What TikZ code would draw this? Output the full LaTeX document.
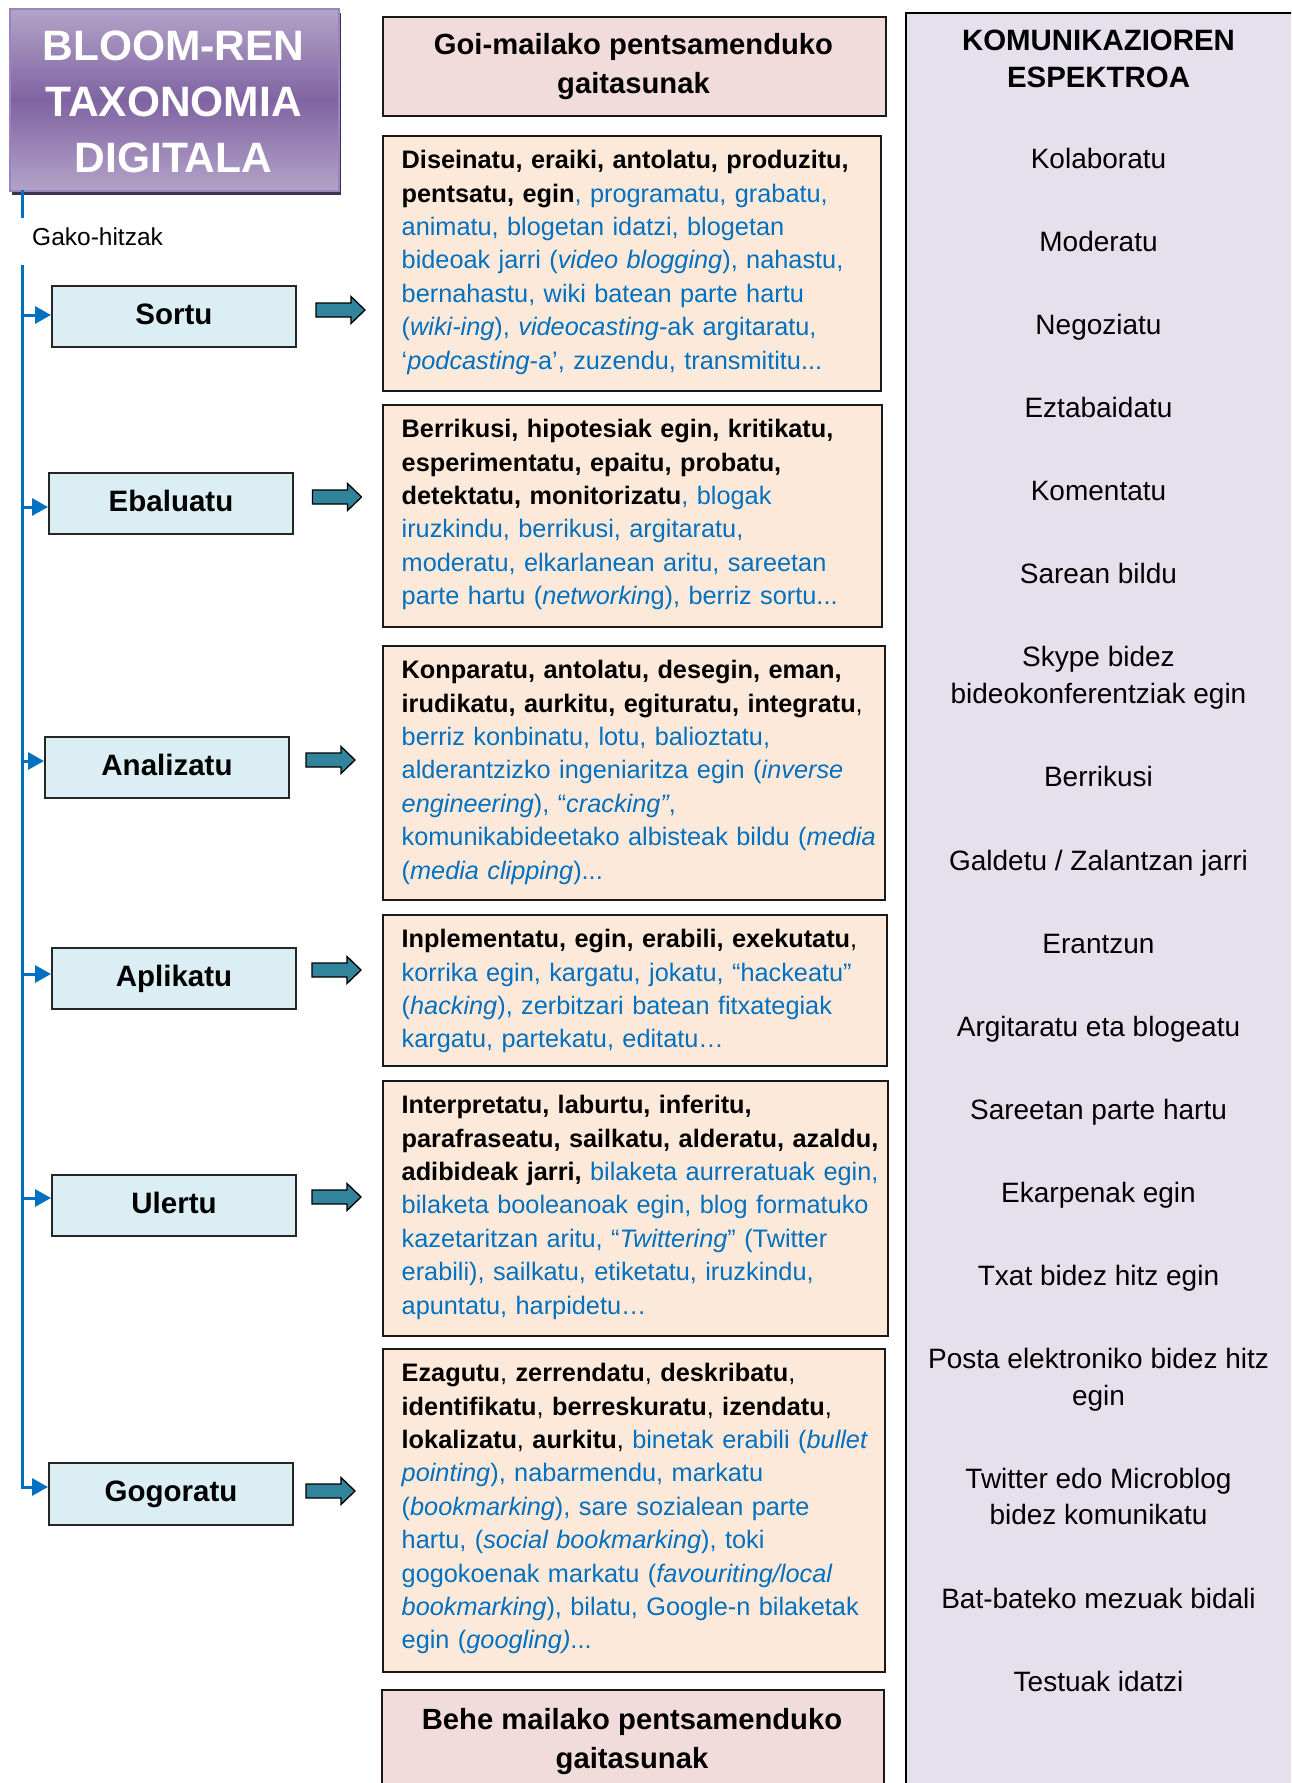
\documentclass[tikz,border=0pt]{standalone}
\usepackage{fontspec}
\setmainfont{Liberation Sans}
\usetikzlibrary{arrows.meta,calc}
\definecolor{bluetxt}{HTML}{0070C0}
\definecolor{bluel}{HTML}{0070C0}
\definecolor{lboxfill}{HTML}{DAEEF3}
\definecolor{tboxfill}{HTML}{FDE9D9}
\definecolor{headfill}{HTML}{F2DCDB}
\definecolor{rcolfill}{HTML}{E5E0EC}
\definecolor{teal}{HTML}{31849B}
\definecolor{titlel}{HTML}{B3A3C8}
\definecolor{titled}{HTML}{8064A2}
\definecolor{titleb}{HTML}{9A86BE}
\definecolor{shadowc}{HTML}{3F3151}
\newcommand{\bk}[1]{\textcolor{black}{\textbf{#1}}}
\newcommand{\kc}[1]{\textcolor{black}{#1}}
\newcommand{\tealarrow}[3]{%
  \coordinate (#1) at (#2,#3);
  \draw[tarrowp, shift={(#1)}] (-24.5,7) -- (10.5,7) -- (10.5,13.5) -- (24.5,0) -- (10.5,-13.5) -- (10.5,-7) -- (-24.5,-7) -- cycle;}
\begin{document}
\begin{tikzpicture}[x=1pt,y=1pt,
  lbox/.style={draw=black!85, fill=lboxfill, line width=2pt, minimum width=244pt, minimum height=61pt, inner sep=0pt, anchor=north west, font=\bfseries\fontsize{29.5}{35}\selectfont, text height=22pt, text depth=6.8pt},
  tbox/.style={draw=black!90, fill=tboxfill, line width=2pt, inner sep=0pt, anchor=north west},
  hbox/.style={draw=black!90, fill=headfill, line width=2pt, inner sep=0pt, anchor=north west},
  txt/.style={anchor=north west, inner sep=0pt, text width=480pt, align=left, text=bluetxt, font=\fontsize{25.3}{33.4}\selectfont},
  htxt/.style={anchor=north, inner sep=0pt, align=center, font=\bfseries\fontsize{29.2}{39}\selectfont},
  rc/.style={anchor=north, inner sep=0pt, align=center, font=\fontsize{28}{37.5}\selectfont},
  tarrowp/.style={draw=black, line width=1.3pt, fill=teal, line join=miter},
  bline/.style={draw=bluel, line width=3pt},
  barrow/.style={draw=bluel, line width=3pt, -{Triangle[length=16pt,width=17pt]}}
]
\clip (0,0) rectangle (1291,-1783);
\fill[white] (0,0) rectangle (1291,-1783);

% right column
\node[draw=black, fill=rcolfill, line width=2pt, anchor=north west, minimum width=420pt, minimum height=1800pt, inner sep=0pt] (rcol) at (905,-12) {};
\node[rc, font=\bfseries\fontsize{29.4}{37.5}\selectfont] (rch) at (1098.5,-24) {\strut KOMUNIKAZIOREN\\ESPEKTROA};
\node[rc] (r1) at (1098.5,-141.9) {\strut Kolaboratu};
\node[rc] (r2) at (1098.5,-224.9) {\strut Moderatu};
\node[rc] (r3) at (1098.5,-308) {\strut Negoziatu};
\node[rc] (r4) at (1098.5,-391) {\strut Eztabaidatu};
\node[rc] (r5) at (1098.5,-474) {\strut Komentatu};
\node[rc] (r6) at (1098.5,-557) {\strut Sarean bildu};
\node[rc] (r7) at (1098.5,-640) {\strut Skype bidez\\bideokonferentziak egin};
\node[rc] (r8) at (1098.5,-760.5) {\strut Berrikusi};
\node[rc] (r9) at (1098.5,-843.6) {\strut Galdetu / Zalantzan jarri};
\node[rc] (r10) at (1098.5,-926.6) {\strut Erantzun};
\node[rc] (r11) at (1098.5,-1009.6) {\strut Argitaratu eta blogeatu};
\node[rc] (r12) at (1098.5,-1092.7) {\strut Sareetan parte hartu};
\node[rc] (r13) at (1098.5,-1175.7) {\strut Ekarpenak egin};
\node[rc] (r14) at (1098.5,-1258.7) {\strut Txat bidez hitz egin};
\node[rc] (r15) at (1098.5,-1341.7) {\strut Posta elektroniko bidez hitz\\egin};
\node[rc, font=\fontsize{28}{36.5}\selectfont] (r16) at (1098.5,-1462.3) {\strut Twitter edo Microblog\\bidez komunikatu};
\node[rc] (r17) at (1098.5,-1581.7) {\strut Bat-bateko mezuak bidali};
\node[rc] (r18) at (1098.5,-1664.7) {\strut Testuak idatzi};

% title
\fill[shadowc] (12,-13) rectangle (341,-195);
\node[draw=titleb, line width=2pt, top color=titlel, bottom color=titlel, middle color=titled, anchor=north west, minimum width=329pt, minimum height=182pt, inner sep=0pt] (title) at (9,-8) {};
\node[anchor=north, inner sep=0pt, align=center, text=white, font=\bfseries\fontsize{42.5}{56}\selectfont] (titletext) at (173.5,-20.8) {\strut BLOOM-REN\\TAXONOMIA\\DIGITALA};

% Gako-hitzak
\node[anchor=base west, inner sep=0pt, font=\fontsize{24.5}{29}\selectfont] (gako) at (32,-245.5) {Gako-hitzak};

% header boxes
\node[hbox, minimum width=503pt, minimum height=99pt] (goi) at (382,-16) {};
\node[htxt] (goitxt) at (633.5,-27.2) {\strut Goi-mailako pentsamenduko\\gaitasunak};
\node[hbox, minimum width=502pt, minimum height=200pt] (behe) at (381,-1689) {};
\node[htxt] (behetxt) at (632,-1702.2) {\strut Behe mailako pentsamenduko\\gaitasunak};

% left boxes
\node[lbox] (s1) at (51,-285) {Sortu};
\node[lbox] (s2) at (48,-472) {Ebaluatu};
\node[lbox] (s3) at (44,-736) {Analizatu};
\node[lbox] (s4) at (51,-947) {Aplikatu};
\node[lbox] (s5) at (51,-1174) {Ulertu};
\node[lbox, minimum height=62pt] (s6) at (48,-1462) {Gogoratu};

% text boxes
\node[tbox, minimum width=498pt, minimum height=255pt] (t1) at (382,-135) {};
\node[tbox, minimum width=499pt, minimum height=222pt] (t2) at (382,-404) {};
\node[tbox, minimum width=502pt, minimum height=254pt] (t3) at (382,-645) {};
\node[tbox, minimum width=504pt, minimum height=151pt] (t4) at (382,-914) {};
\node[tbox, minimum width=505pt, minimum height=255pt] (t5) at (382,-1080) {};
\node[tbox, minimum width=502pt, minimum height=323pt] (t6) at (382,-1348) {};

\node[txt] (x1) at (401.5,-145.1) {\strut\bk{Diseinatu, eraiki, antolatu, produzitu,}\\
\bk{pentsatu, egin}, programatu, grabatu,\\
animatu, blogetan idatzi, blogetan\\
bideoak jarri (\textit{video blogging}), nahastu,\\
bernahastu, wiki batean parte hartu\\
(\textit{wiki-ing}), \textit{videocasting}-ak argitaratu,\\
‘\textit{podcasting}-a’, zuzendu, transmititu...};

\node[txt] (x2) at (401.5,-414.1) {\strut\bk{Berrikusi, hipotesiak egin, kritikatu,}\\
\bk{esperimentatu, epaitu, probatu,}\\
\bk{detektatu, monitorizatu}, blogak\\
iruzkindu, berrikusi, argitaratu,\\
moderatu, elkarlanean aritu, sareetan\\
parte hartu (\textit{networkin}g), berriz sortu...};

\node[txt] (x3) at (401.5,-655.1) {\strut\bk{Konparatu, antolatu, desegin, eman,}\\
\bk{irudikatu, aurkitu, egituratu, integratu}\kc{,}\\
berriz konbinatu, lotu, balioztatu,\\
alderantzizko ingeniaritza egin (\textit{inverse}\\
\textit{engineering}), “\textit{cracking”},\\
komunikabideetako albisteak bildu (\textit{media}\\
(\textit{media clipping})...};

\node[txt] (x4) at (401.5,-924.1) {\strut\bk{Inplementatu, egin, erabili, exekutatu}\kc{,}\\
korrika egin, kargatu, jokatu, “hackeatu”\\
(\textit{hacking}), zerbitzari batean fitxategiak\\
kargatu, partekatu, editatu…};

\node[txt] (x5) at (401.5,-1090.1) {\strut\bk{Interpretatu, laburtu, inferitu,}\\
\bk{parafraseatu, sailkatu, alderatu, azaldu,}\\
\bk{adibideak jarri,} bilaketa aurreratuak egin,\\
bilaketa booleanoak egin, blog formatuko\\
kazetaritzan aritu, “\textit{Twittering}” (Twitter\\
erabili), sailkatu, etiketatu, iruzkindu,\\
apuntatu, harpidetu…};

\node[txt] (x6) at (401.5,-1358.1) {\strut\bk{Ezagutu}\kc{,} \bk{zerrendatu}\kc{,} \bk{deskribatu}\kc{,}\\
\bk{identifikatu}\kc{,} \bk{berreskuratu}\kc{,} \bk{izendatu}\kc{,}\\
\bk{lokalizatu}\kc{,} \bk{aurkitu}\kc{,} binetak erabili (\textit{bullet}\\
\textit{pointing}), nabarmendu, markatu\\
(\textit{bookmarking}), sare sozialean parte\\
hartu, (\textit{social bookmarking}), toki\\
gogokoenak markatu (\textit{favouriting/local}\\
\textit{bookmarking}), bilatu, Google-n bilaketak\\
egin (\textit{googling)}...};

% teal block arrows
\tealarrow{a1}{340.5}{-310}
\tealarrow{a2}{337}{-497}
\tealarrow{a3}{330.5}{-760}
\tealarrow{a4}{336.5}{-970}
\tealarrow{a5}{336.5}{-1197}
\tealarrow{a6}{330.5}{-1491}

% blue line and arrows
\coordinate (v0) at (22.5,-190);
\coordinate (v1) at (22.5,-218);
\coordinate (v2) at (22.5,-265);
\coordinate (j1) at (22.5,-315);
\coordinate (j2) at (22.5,-507);
\coordinate (j3) at (22.5,-761);
\coordinate (j4) at (22.5,-974);
\coordinate (j5) at (22.5,-1198);
\coordinate (j6) at (22.5,-1487);
\draw[bline] (v0) -- (v1);
\draw[bline] (v2) -- (j6);
\draw[barrow] (j1) -- (j1 -| s1.west);
\draw[barrow] (j2) -- (j2 -| s2.west);
\draw[barrow] (j3) -- (j3 -| s3.west);
\draw[barrow] (j4) -- (j4 -| s4.west);
\draw[barrow] (j5) -- (j5 -| s5.west);
\draw[barrow] ($(j6)+(-1.5,0)$) -- (j6 -| s6.west);
\end{tikzpicture}
\end{document}
